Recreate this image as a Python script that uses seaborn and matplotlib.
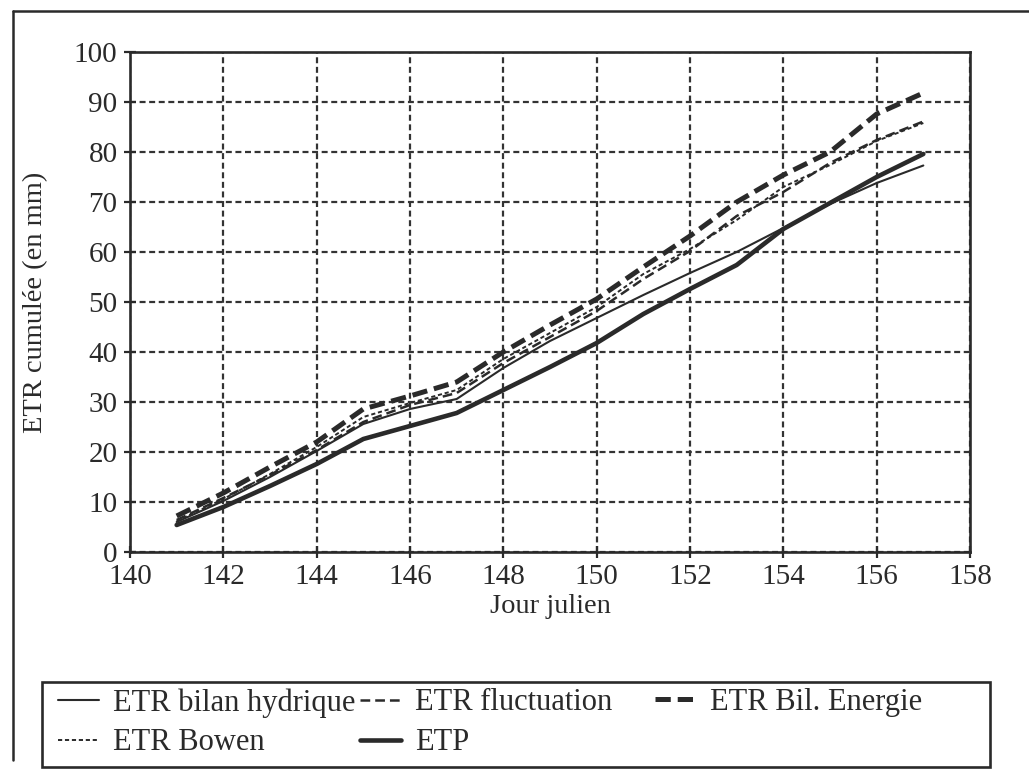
import matplotlib
matplotlib.use("Agg")
import matplotlib.pyplot as plt
import seaborn as sns
import pandas as pd
from matplotlib.lines import Line2D
from matplotlib.patches import Rectangle

# ---------------- data ----------------
days = list(range(141, 158))
etr_bilan_hydrique = [6.0, 10.2, 15.0, 20.2, 25.6, 28.6, 30.6, 36.8, 42.2, 46.8,
                      51.4, 55.8, 60.0, 64.8, 69.6, 73.8, 77.3]
etr_fluctuation = [6.4, 10.8, 15.4, 20.4, 26.0, 29.4, 31.8, 37.8, 43.0, 48.2,
                   54.6, 60.2, 67.2, 72.0, 77.8, 82.4, 86.1]
etr_bil_energie = [7.2, 11.8, 17.0, 22.0, 28.6, 31.2, 34.0, 40.0, 45.4, 50.6,
                   57.0, 63.2, 70.0, 75.4, 80.0, 87.6, 91.8]
etr_bowen = [6.2, 10.6, 15.6, 21.0, 27.0, 29.8, 32.4, 38.6, 43.8, 49.0,
             55.6, 60.6, 66.4, 73.0, 77.4, 82.2, 85.8]
etp = [5.4, 9.0, 13.2, 17.6, 22.6, 25.2, 27.8, 32.4, 37.0, 41.8,
       47.6, 52.6, 57.4, 64.6, 69.8, 75.0, 79.6]

series_names = ["ETR bilan hydrique", "ETR Bowen", "ETR fluctuation", "ETP", "ETR Bil. Energie"]
series_values = [etr_bilan_hydrique, etr_bowen, etr_fluctuation, etp, etr_bil_energie]

x_ticks = list(range(140, 159, 2))
y_ticks = list(range(0, 101, 10))
x_label = "Jour julien"
y_label = "ETR cumulée (en mm)"

# ---------------- style ----------------
sns.set_style("ticks")
plt.rcParams["font.family"] = ["Liberation Serif", "DejaVu Serif"]
plt.rcParams["lines.scale_dashes"] = False
ink = "#2a2a2a"

styles = {
    "ETR bilan hydrique": dict(lw=1.5, ls="-"),
    "ETR Bowen": dict(lw=1.4, ls=(0, (3.0, 2.0))),
    "ETR fluctuation": dict(lw=1.8, ls=(0, (7.0, 3.6))),
    "ETP": dict(lw=3.3, ls="-"),
    "ETR Bil. Energie": dict(lw=3.6, ls=(0, (11.0, 5.0))),
}

df = pd.concat(
    [pd.DataFrame({"jour": days, "etr": v, "serie": n}) for n, v in zip(series_names, series_values)],
    ignore_index=True,
)

fig = plt.figure(figsize=(10.29, 7.71), dpi=100)
ax = fig.add_axes([130 / 1029, 1 - 552 / 771, 840 / 1029, 500 / 771])

ax.set_axisbelow(True)
ax.grid(True, color="#333333", linestyle=(0, (4.3, 2.6)), linewidth=1.6)

for name in series_names:
    sub = df[df["serie"] == name]
    st = styles[name]
    sns.lineplot(data=sub, x="jour", y="etr", ax=ax, color=ink,
                 linewidth=st["lw"], linestyle=st["ls"], label=name, legend=False)

ax.set_xlim(140, 158)
ax.set_ylim(0, 100)
ax.set_xticks(x_ticks)
ax.set_yticks(y_ticks)
ax.tick_params(direction="inout", length=8, width=1.6, colors=ink,
               labelsize=21, pad=5)
for s in ax.spines.values():
    s.set_visible(True)
    s.set_linewidth(1.9)
    s.set_color(ink)

ax.set_xlabel(x_label, fontsize=20.5, color=ink)
ax.set_ylabel(y_label, fontsize=20.5, color=ink)
ax.xaxis.set_label_coords(0.5, -0.084)
ax.yaxis.set_label_coords(-0.098, 0.5)

# legend box
fig.add_artist(Rectangle((42 / 1029, 1 - 767 / 771), 948 / 1029, 85 / 771,
                         transform=fig.transFigure, fill=False,
                         edgecolor=ink, linewidth=1.9))
handles, labels = ax.get_legend_handles_labels()
hmap = dict(zip(labels, handles))
leg_kw = dict(loc="upper left", borderaxespad=0, fontsize=22, frameon=False,
              handlelength=1.35, handletextpad=0.45, labelspacing=0.35,
              borderpad=0)
left_names = ["ETR bilan hydrique", "ETR Bowen", "ETR fluctuation", "ETP"]
leg1 = fig.legend([hmap[n] for n in left_names], left_names, ncol=2,
                  bbox_to_anchor=(58 / 1029, 1 - 688 / 771),
                  columnspacing=0.15, **leg_kw)
leg2 = fig.legend([hmap["ETR Bil. Energie"]], ["ETR Bil. Energie"], ncol=1,
                  bbox_to_anchor=(655 / 1029, 1 - 688 / 771), **leg_kw)
for lg in (leg1, leg2):
    for t in lg.get_texts():
        t.set_color(ink)

# scanned page frame (top and left edges)
fig.add_artist(Line2D([13 / 1029, 1.0], [1 - 11 / 771, 1 - 11 / 771],
                      transform=fig.transFigure, color=ink, lw=1.8))
fig.add_artist(Line2D([13 / 1029, 13 / 1029], [1 - 11 / 771, 1 - 760 / 771],
                      transform=fig.transFigure, color=ink, lw=1.8))

fig.savefig("out.png", dpi=100, facecolor="white")
